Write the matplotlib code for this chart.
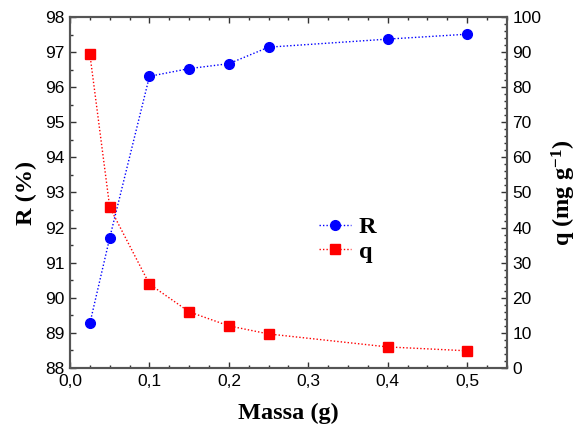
import matplotlib
matplotlib.use("Agg")
import matplotlib.pyplot as plt
from matplotlib.ticker import MultipleLocator, FuncFormatter

massa = [0.025, 0.05, 0.1, 0.15, 0.2, 0.25, 0.4, 0.5]
R_vals = [89.27, 91.71, 96.31, 96.53, 96.67, 97.14, 97.37, 97.51]
q_vals = [89.4, 45.8, 23.9, 16.0, 12.0, 9.7, 6.0, 4.9]

fig = plt.figure(figsize=(5.81, 4.28), dpi=100)
ax = fig.add_axes([0.1205, 0.1402, 0.752, 0.8201])
ax2 = ax.twinx()

serif = ["Liberation Serif", "DejaVu Serif"]
sans = ["Liberation Sans", "DejaVu Sans"]

l1, = ax.plot(massa, R_vals, linestyle=(0, (1, 1.5)), color="#0000ff", lw=1,
              marker="o", markersize=7, markerfacecolor="#0000ff",
              markeredgecolor="#0000ff", label="R", zorder=3)
l2, = ax2.plot(massa, q_vals, linestyle=(0, (1, 1.5)), color="#ff0000", lw=1,
               marker="s", markersize=7.5, markerfacecolor="#ff0000",
               markeredgecolor="#ff0000", label="q", zorder=3)

ax.set_xlim(0, 0.55)
ax.set_ylim(88, 98)
ax2.set_ylim(0, 100)

ax.xaxis.set_major_locator(MultipleLocator(0.1))
ax.xaxis.set_minor_locator(MultipleLocator(0.025))
ax.yaxis.set_major_locator(MultipleLocator(1))
ax.yaxis.set_minor_locator(MultipleLocator(0.5))
ax2.yaxis.set_major_locator(MultipleLocator(10))
ax2.yaxis.set_minor_locator(MultipleLocator(2))

ax.xaxis.set_major_formatter(FuncFormatter(lambda v, p: f"{v:.1f}".replace(".", ",")))

for a in (ax, ax2):
    a.tick_params(which="both", direction="in", labelsize=12.5, width=1, color="#333333")
    a.tick_params(which="major", length=4, pad=4)
    a.tick_params(which="minor", length=2)
    for lab in a.get_xticklabels() + a.get_yticklabels():
        lab.set_family(sans)
    for s in a.spines.values():
        s.set_color("#555555")
        s.set_linewidth(1.5)
ax.tick_params(axis="x", which="both", top=True)
ax.tick_params(axis="y", which="both", right=False)

ax.set_xlabel("Massa (g)", fontsize=17.5, fontweight="bold", family=serif, labelpad=10)
ax.set_ylabel("R (%)", fontsize=17.5, fontweight="bold", family=serif, labelpad=6)
ax2.set_ylabel("q (mg g$\\mathregular{^{-1}}$)", fontsize=17.5, fontweight="bold",
               family=serif, labelpad=6, rotation=90)

leg = ax.legend(handles=[l1, l2], loc="center", bbox_to_anchor=(0.635, 0.366),
                frameon=False, handlelength=1.35, handletextpad=0.3, labelspacing=0.12,
                prop={"family": serif, "weight": "bold", "size": 17.5})

fig.savefig("out.png", dpi=100)
